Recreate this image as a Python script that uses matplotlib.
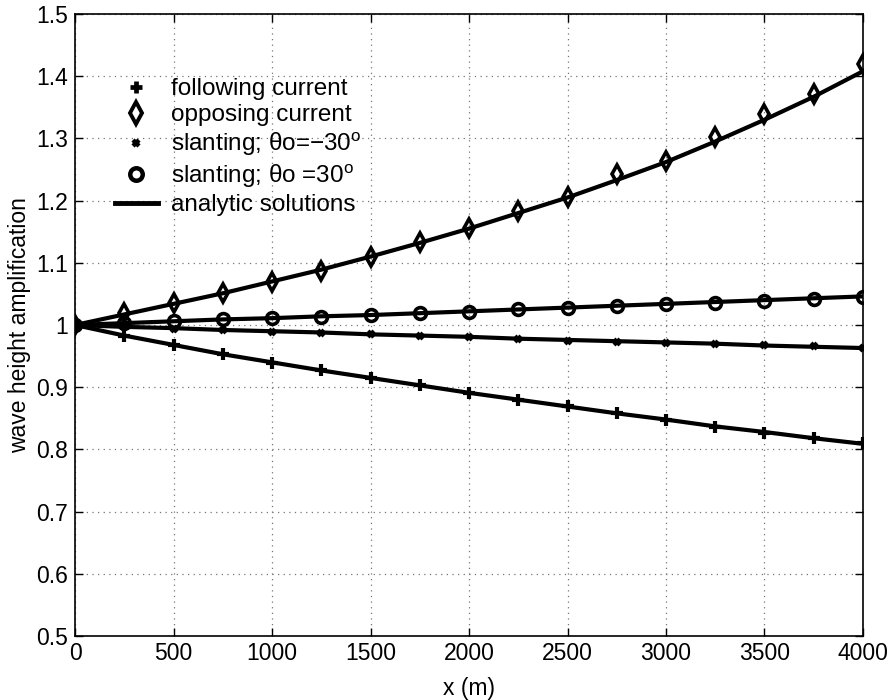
import matplotlib
matplotlib.use("Agg")
import matplotlib.pyplot as plt
from matplotlib.lines import Line2D

plt.rcParams['font.family'] = ['Liberation Sans', 'DejaVu Sans']
plt.rcParams['mathtext.fontset'] = 'custom'
plt.rcParams['mathtext.rm'] = 'Liberation Sans'
plt.rcParams['mathtext.it'] = 'Liberation Sans:italic'

# distance along the channel (m)
x = [0, 250, 500, 750, 1000, 1250, 1500, 1750, 2000, 2250, 2500,
     2750, 3000, 3250, 3500, 3750, 4000]

# numerical wave height amplification
following = [1.000, 0.982, 0.968, 0.953, 0.939, 0.927, 0.915, 0.904, 0.891,
              0.879, 0.869, 0.858, 0.847, 0.836, 0.827, 0.819, 0.811]
opposing = [1.000, 1.019, 1.035, 1.051, 1.069, 1.087, 1.110, 1.134, 1.156,
            1.184, 1.205, 1.242, 1.264, 1.303, 1.339, 1.371, 1.419]
slant_neg = [1.000, 0.997, 0.994, 0.992, 0.989, 0.987, 0.985, 0.982, 0.980,
             0.978, 0.975, 0.973, 0.971, 0.969, 0.968, 0.966, 0.963]
slant_pos = [1.000, 1.003, 1.007, 1.009, 1.011, 1.013, 1.016, 1.019, 1.021,
             1.025, 1.027, 1.031, 1.034, 1.036, 1.039, 1.042, 1.045]

# analytic solutions
ana_following = [1.000, 0.983, 0.968, 0.953, 0.940, 0.927, 0.915, 0.903, 0.891,
                 0.880, 0.869, 0.858, 0.848, 0.837, 0.828, 0.818, 0.809]
ana_opposing = [1.000, 1.017, 1.034, 1.051, 1.070, 1.089, 1.110, 1.132, 1.155,
                1.180, 1.205, 1.233, 1.262, 1.295, 1.330, 1.367, 1.408]
ana_slant_neg = [1.000, 0.997, 0.995, 0.992, 0.990, 0.988, 0.985, 0.983, 0.981,
                 0.978, 0.976, 0.974, 0.972, 0.970, 0.967, 0.965, 0.963]
ana_slant_pos = [1.000, 1.003, 1.006, 1.009, 1.011, 1.014, 1.016, 1.019, 1.022,
                 1.025, 1.028, 1.031, 1.034, 1.037, 1.040, 1.043, 1.046]

labels = ["following current", "opposing current",
          "slanting; θo=−30$^{\\mathrm{o}}$", "slanting; θo =30$^{\\mathrm{o}}$",
          "analytic solutions"]

xticks = [0, 500, 1000, 1500, 2000, 2500, 3000, 3500, 4000]
yticks = [0.5, 0.6, 0.7, 0.8, 0.9, 1.0, 1.1, 1.2, 1.3, 1.4, 1.5]
yticklabels = ["0.5", "0.6", "0.7", "0.8", "0.9", "1", "1.1", "1.2", "1.3", "1.4", "1.5"]

FS = 16.5
LEG_FS = 17.5

fig = plt.figure(figsize=(8.93, 7.0), dpi=100)
ax = fig.add_axes([0.084, 0.0914, 0.8824, 0.8886])

line_kw = dict(color='black', lw=3.0, solid_capstyle='butt')
for yv in (ana_following, ana_opposing, ana_slant_neg, ana_slant_pos):
    ax.plot(x, yv, **line_kw)

ax.plot(x, following, ls='none', marker='+', ms=8, mew=3.0, color='black')
ax.plot(x, opposing, ls='none', marker='d', ms=9, mew=2.6, mfc='none', color='black')
ax.plot(x, slant_neg, ls='none', marker='x', ms=5, mew=3.0, color='black')
ax.plot(x, slant_pos, ls='none', marker='o', ms=8.5, mew=2.6, mfc='none', color='black')

ax.set_xlim(0, 4000)
ax.set_ylim(0.5, 1.5)
ax.set_xticks(xticks)
ax.set_xticklabels([str(v) for v in xticks])
ax.set_yticks(yticks)
ax.set_yticklabels(yticklabels)
ax.tick_params(axis='both', direction='in', length=6, width=1, top=True, right=True,
               labelsize=FS)
ax.tick_params(axis='x', pad=4)
ax.tick_params(axis='y', pad=5)
ax.grid(True, ls=(0, (1, 3.5)), color='#777777', lw=0.9)
for s in ax.spines.values():
    s.set_linewidth(1.2)

ax.set_xlabel("x (m)", fontsize=FS, labelpad=9)
ax.set_ylabel("wave height amplification", fontsize=FS, labelpad=4)

handles = [
    Line2D([], [], ls='none', marker='+', ms=8, mew=3.4, color='black'),
    Line2D([], [], ls='none', marker='d', ms=11, mew=2.8, mfc='none', color='black'),
    Line2D([], [], ls='none', marker='x', ms=5, mew=3.2, color='black'),
    Line2D([], [], ls='none', marker='o', ms=9, mew=3.2, mfc='none', color='black'),
    Line2D([], [], color='black', lw=3.5),
]
ax.legend(handles, labels, loc='upper left', bbox_to_anchor=(0.051, 0.897),
          frameon=False, fontsize=LEG_FS, borderpad=0, borderaxespad=0,
          handlelength=1.75, handletextpad=0.55, labelspacing=0.18)

fig.savefig("out.png", dpi=100)
